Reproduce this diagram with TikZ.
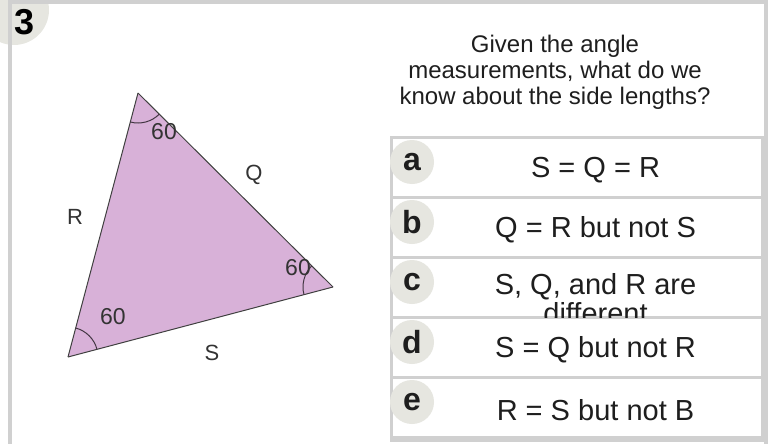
\documentclass[tikz,border=0pt]{standalone}
\usepackage{fontspec}
\setmainfont{Liberation Sans}
\usepackage{tikz}
\usetikzlibrary{positioning,calc,angles}
\definecolor{framegray}{RGB}{208,208,208}
\definecolor{badgegray}{RGB}{230,230,224}
\definecolor{trifill}{RGB}{216,177,216}
\definecolor{inkgray}{RGB}{30,30,30}

\begin{document}
\begin{tikzpicture}[
  x=0.5pt, y=-0.5pt,
  every node/.style={text=inkgray},
  badge/.style={circle,fill=badgegray,minimum size=22pt,inner sep=0pt,font=\fontsize{16}{16}\selectfont\bfseries},
  option/.style={draw=framegray,line width=1.5pt,fill=white,minimum width=185.5pt,minimum height=30pt,inner sep=0pt,outer sep=0pt},
  answer/.style={font=\fontsize{14.5}{14.3}\selectfont,inner sep=0pt},
  side/.style={draw=black!75,line width=0.5pt},
  anglemark/.style={draw=black!70!trifill,line width=0.5pt,angle radius=15pt},
  tag/.style={font=\fontsize{11}{12}\selectfont,text=black!80}
]
\useasboundingbox (0,0) rectangle (769,444);

\fill[badgegray] (14,10) circle (35);
\fill[framegray] (8,0) rectangle (768,4);
\fill[framegray] (8,0) rectangle (12,444);
\fill[framegray] (764,0) rectangle (768,444);
\node[font=\fontsize{18}{18}\selectfont\bfseries,text=black] (num) at (25,22) {3};

\node[align=center,font=\fontsize{12}{13}\selectfont] (question) at (555,72)
  {Given the angle\\measurements, what do we\\know about the side lengths?};

\coordinate (vT) at (138,93);
\coordinate (vR) at (333,287);
\coordinate (vB) at (68,357);
\fill[trifill] (vT) -- (vR) -- (vB) -- cycle;
\draw[side] (vT) -- (vR);
\draw[side] (vR) -- (vB);
\draw[side] (vB) -- (vT);
\pic[anglemark] {angle=vB--vT--vR};
\pic[anglemark] {angle=vT--vR--vB};
\pic[anglemark] {angle=vR--vB--vT};

\node[tag,font=\fontsize{11.5}{12}\selectfont] (angT) at (164,132) {60};
\node[tag,font=\fontsize{11.5}{12}\selectfont] (angR) at (298,268) {60};
\node[tag,font=\fontsize{11.5}{12}\selectfont] (angB) at (113,317) {60};
\node[tag] (sideQ) at (254,175) {Q};
\node[tag] (sideR) at (75,217) {R};
\node[tag] (sideS) at (212,353) {S};

\fill[framegray] (390,436) rectangle (764,442);
\node[option,anchor=north west] (optA) at (391,137) {};
\node[option,below=0pt of optA] (optB) {};
\node[option,below=0pt of optB] (optC) {};
\node[option,below=0pt of optC] (optD) {};
\node[option,below=0pt of optD] (optE) {};

\node[badge] (keyA) at ($(optA.north west)+(21,25)$) {a};
\node[badge] (keyB) at ($(optB.north west)+(21,25)$) {b};
\node[badge] (keyC) at ($(optC.north west)+(21,25)$) {c};
\node[badge] (keyD) at ($(optD.north west)+(21,25)$) {d};
\node[badge] (keyE) at ($(optE.north west)+(21,25)$) {e};

\node[answer] (ansA) at ($(optA.center)+(19,3)$) {S = Q = R};
\node[answer] (ansB) at ($(optB.center)+(19,3)$) {Q = R but not S};
\begin{scope}
  \clip (optC.north west) rectangle (optC.south east);
  \node[answer,align=center,anchor=north] (ansC)
    at ($(optC.north)+(19,16)$) {S, Q, and R are\\different};
\end{scope}
\node[answer] (ansD) at ($(optD.center)+(19,3)$) {S = Q but not R};
\node[answer] (ansE) at ($(optE.center)+(19,3)$) {R = S but not B};
\end{tikzpicture}
\end{document}
